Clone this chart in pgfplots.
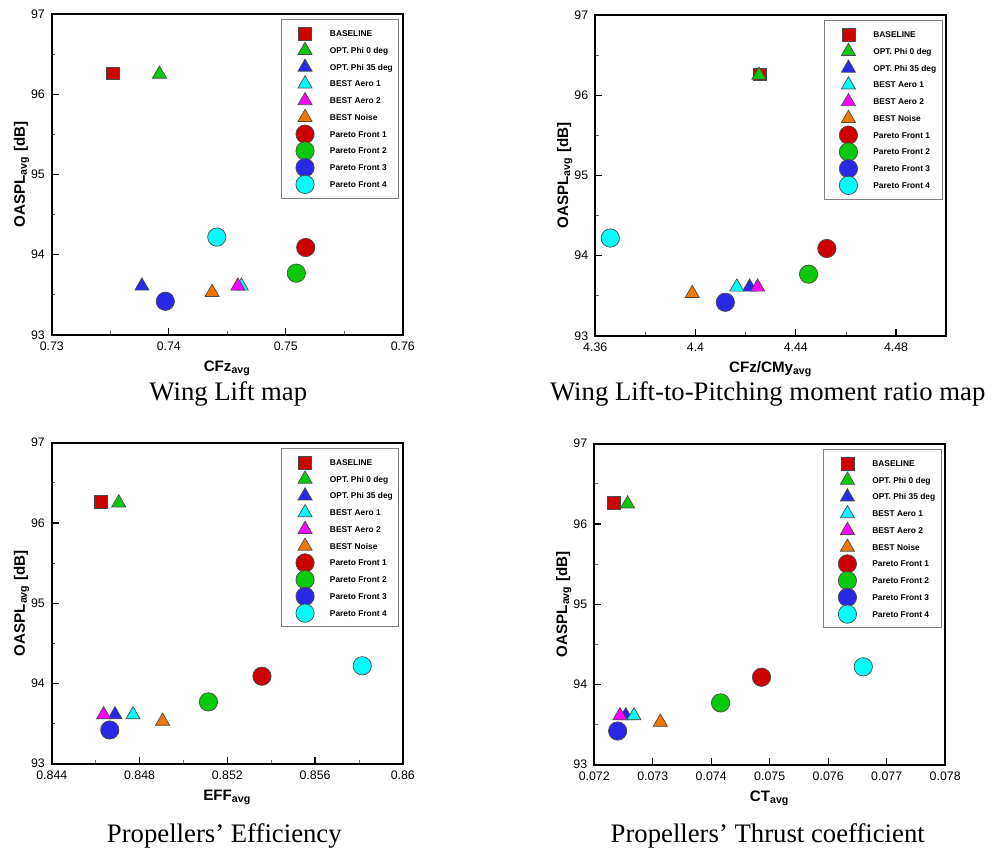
\documentclass[border=0pt]{standalone}
\usepackage{fontspec}
\setmainfont{Liberation Sans}
\newfontfamily\capfont{Liberation Serif}
\usepackage{pgfplots}
\pgfplotsset{compat=1.18}

\definecolor{cred}{RGB}{204,0,0}
\definecolor{cgreen}{RGB}{10,200,10}
\definecolor{cblue}{RGB}{40,40,230}
\definecolor{ccyan}{RGB}{0,255,255}
\definecolor{cmag}{RGB}{255,0,255}
\definecolor{corange}{RGB}{240,120,0}

\pgfplotscreateplotcyclelist{oaspl}{
  {mark=square*,   mark size=3.25pt, mark options={fill=cred,    draw=black!70, line width=0.35pt}},
  {mark=triangle*, mark size=4.1pt,  mark options={fill=cgreen,  draw=black!70, line width=0.35pt}},
  {mark=triangle*, mark size=4.1pt,  mark options={fill=cblue,   draw=black!70, line width=0.35pt}},
  {mark=triangle*, mark size=4.1pt,  mark options={fill=ccyan,   draw=black!70, line width=0.35pt}},
  {mark=triangle*, mark size=4.1pt,  mark options={fill=cmag,    draw=black!70, line width=0.35pt}},
  {mark=triangle*, mark size=4.1pt,  mark options={fill=corange, draw=black!70, line width=0.35pt}},
  {mark=*, mark size=4.6pt, mark options={fill=cred,   draw=black!70, line width=0.35pt}},
  {mark=*, mark size=4.6pt, mark options={fill=cgreen, draw=black!70, line width=0.35pt}},
  {mark=*, mark size=4.6pt, mark options={fill=cblue,  draw=black!70, line width=0.35pt}},
  {mark=*, mark size=4.6pt, mark options={fill=ccyan,  draw=black!70, line width=0.35pt}},
}

\pgfplotsset{
  oaspl/.style={
    width=176pt, height=161pt, scale only axis,
    anchor=south west,
    ymin=93, ymax=97, ytick={93,94,95,96,97}, minor y tick num=1,
    tick align=inside, tick pos=left,
    major tick length=3.5pt, minor tick length=1.8pt,
    major tick style={black, line width=0.6pt},
    minor tick style={black!60, line width=0.4pt},
    axis line style={line width=0.9pt},
    scaled ticks=false,
    /pgf/number format/assume math mode=true,
    ticklabel style={font=\fontsize{6.2}{7}\selectfont},
    xticklabel style={/pgf/number format/fixed, /pgf/number format/precision=3},
    label style={font=\fontsize{7.6}{9}\selectfont\bfseries},
    ylabel={OASPL\textsubscript{avg} [dB]},
    ylabel style={at={(axis description cs:-0.077,0.5)}, anchor=base},
    xlabel style={at={(axis description cs:0.5,-0.114)}, anchor=base},
    only marks, clip=false,
    cycle list name=oaspl,
    legend entries={BASELINE, OPT. Phi 0 deg, OPT. Phi 35 deg, BEST Aero 1, BEST Aero 2,
      BEST Noise, Pareto Front 1, Pareto Front 2, Pareto Front 3, Pareto Front 4},
    legend cell align=left,
    legend style={at={(0.99,0.983)}, anchor=north east,
      draw=black!50, line width=0.5pt,
      font=\fontsize{4.2}{5}\selectfont\bfseries,
      inner xsep=3pt, inner ysep=2.7pt,
      nodes={inner sep=0pt, text height=3pt, text depth=0pt},
      column sep=3.5pt, row sep=0pt},
    legend image code/.code={
      \path[draw=none, fill=none] (0pt,-4.2pt) rectangle (18pt,4.2pt);
      \begin{pgfinterruptboundingbox}
      \draw[mark repeat=2,mark phase=2,##1] plot coordinates {(0pt,0pt)(9pt,0pt)(18pt,0pt)};
      \end{pgfinterruptboundingbox}
    },
  }
}

\begin{document}
\begin{tikzpicture}
\path (0pt,0pt) rectangle (496pt,428.5pt);

% Wing lift
\begin{axis}[oaspl, at={(26pt,260.5pt)},
  xmin=0.73, xmax=0.76, xtick={0.73,0.74,0.75,0.76}, minor x tick num=1,
  xlabel={CFz\textsubscript{avg}}]
\addplot coordinates {(0.7352,96.26)};
\addplot coordinates {(0.7392,96.25)};
\addplot coordinates {(0.7377,93.61)};
\addplot coordinates {(0.7462,93.61)};
\addplot coordinates {(0.7459,93.61)};
\addplot coordinates {(0.7437,93.53)};
\addplot coordinates {(0.7517,94.09)};
\addplot coordinates {(0.7509,93.77)};
\addplot coordinates {(0.7397,93.42)};
\addplot coordinates {(0.7441,94.22)};
\end{axis}

% Lift to pitching moment
\begin{axis}[oaspl, at={(298.5pt,260pt)},
  xmin=4.36, xmax=4.50, xtick={4.36,4.40,4.44,4.48}, minor x tick num=1,
  xlabel={CFz/CMy\textsubscript{avg}}]
\addplot coordinates {(4.4256,96.26)};
\addplot coordinates {(4.4253,96.25)};
\addplot coordinates {(4.4216,93.61)};
\addplot coordinates {(4.4165,93.61)};
\addplot coordinates {(4.4248,93.61)};
\addplot coordinates {(4.3987,93.53)};
\addplot coordinates {(4.4524,94.09)};
\addplot coordinates {(4.4451,93.77)};
\addplot coordinates {(4.4119,93.42)};
\addplot coordinates {(4.3660,94.22)};
\end{axis}

% Efficiency
\begin{axis}[oaspl, at={(26pt,45.5pt)},
  xmin=0.844, xmax=0.86, xtick={0.844,0.848,0.852,0.856,0.86}, minor x tick num=1,
  xlabel={EFF\textsubscript{avg}}]
\addplot coordinates {(0.84624,96.26)};
\addplot coordinates {(0.84705,96.25)};
\addplot coordinates {(0.84688,93.61)};
\addplot coordinates {(0.84770,93.61)};
\addplot coordinates {(0.84636,93.61)};
\addplot coordinates {(0.84905,93.53)};
\addplot coordinates {(0.85358,94.09)};
\addplot coordinates {(0.85114,93.77)};
\addplot coordinates {(0.84664,93.42)};
\addplot coordinates {(0.85815,94.22)};
\end{axis}

% Thrust coefficient
\begin{axis}[oaspl, at={(298pt,45pt)},
  xmin=0.072, xmax=0.078, xtick={0.072,0.073,0.074,0.075,0.076,0.077,0.078}, minor x tick num=0,
  xlabel={CT\textsubscript{avg}}]
\addplot coordinates {(0.07233,96.26)};
\addplot coordinates {(0.07257,96.25)};
\addplot coordinates {(0.07254,93.61)};
\addplot coordinates {(0.07268,93.61)};
\addplot coordinates {(0.07244,93.61)};
\addplot coordinates {(0.07313,93.53)};
\addplot coordinates {(0.07486,94.09)};
\addplot coordinates {(0.07416,93.77)};
\addplot coordinates {(0.07240,93.42)};
\addplot coordinates {(0.07660,94.22)};
\end{axis}

\node[font=\capfont\fontsize{13.4}{16}\selectfont, anchor=base] at (114.5pt,227.5pt) {Wing Lift map};
\node[font=\capfont\fontsize{13.4}{16}\selectfont, anchor=base] at (385pt,227.5pt) {Wing Lift-to-Pitching moment ratio map};
\node[font=\capfont\fontsize{13.4}{16}\selectfont, anchor=base] at (112.5pt,6pt) {Propellers’ Efficiency};
\node[font=\capfont\fontsize{13.4}{16}\selectfont, anchor=base] at (385pt,6pt) {Propellers’ Thrust coefficient};
\end{tikzpicture}
\end{document}
